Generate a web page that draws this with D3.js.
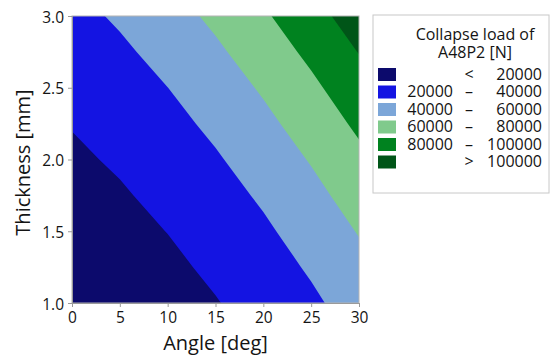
<!DOCTYPE html>
<html>
<head>
<meta charset="utf-8">
<script src="https://cdn.jsdelivr.net/npm/d3@7"></script>
<style>
  body { margin: 0; background: #ffffff; }
  svg { display: block; font-family: "Open Sans", "Noto Sans", sans-serif; }
</style>
</head>
<body>
<svg id="chart" width="552" height="357"></svg>
<script>
// Grid of collapse load values
const angles = [0, 5, 10, 15, 20, 25, 30];
const thicknesses = [1.0, 1.25, 1.5, 1.75, 2.0, 2.25, 2.5, 2.75, 3.0];
// one row per thickness (1.0 -> 3.0), one column per angle
const loads = [
  [ 6400,  8800, 13000, 19100, 27000, 36700,  48300],
  [ 8400, 11500, 16400, 23200, 31800, 42200,  54400],
  [10900, 14700, 20300, 27700, 37000, 48100,  61100],
  [13700, 18200, 24500, 32700, 42600, 54500,  68100],
  [17100, 22200, 29200, 38100, 48700, 61300,  75600],
  [20800, 26600, 34400, 43900, 55300, 68500,  83500],
  [24900, 31500, 39900, 50100, 62200, 76100,  91800],
  [29500, 36800, 45900, 56800, 69600, 84200, 100600],
  [34500, 42500, 52300, 63900, 77400, 92700, 109800]
];
const levels = [0, 20000, 40000, 60000, 80000, 100000];
const levelColors = ["#0c0a6c", "#1414e2", "#7ca6d8", "#80ca8c", "#00821f", "#005518"];
const legendLeft = ["", "20000", "40000", "60000", "80000", ""];
const legendSign = ["<", "–", "–", "–", "–", ">"];
const legendRight = ["20000", "40000", "60000", "80000", "100000", "100000"];
const xTicks = [0, 5, 10, 15, 20, 25, 30];
const yTicks = [1.0, 1.5, 2.0, 2.5, 3.0];

const svg = d3.select('#chart');
const margin = { left: 72, top: 16, right: 193, bottom: 54 };
const width = 552 - margin.left - margin.right;
const height = 357 - margin.top - margin.bottom;
const textColor = '#141414';

const x = d3.scaleLinear().domain([0, 30]).range([0, width]);
const y = d3.scaleLinear().domain([1, 3]).range([height, 0]);

const g = svg.append('g')
    .attr('transform', `translate(${margin.left},${margin.top})`);

svg.append('defs').append('clipPath').attr('id', 'plotClip')
    .append('rect').attr('width', width).attr('height', height);

// contour bands
const nx = angles.length, ny = thicknesses.length;
const flat = [].concat(...loads);
const contours = d3.contours().size([nx, ny]).thresholds(levels)(flat);

const da = angles[1] - angles[0];
const dt = thicknesses[1] - thicknesses[0];
const proj = d3.geoTransform({
    point: function(px, py) {
        this.stream.point(x(angles[0] + (px - 0.5) * da), y(thicknesses[0] + (py - 0.5) * dt));
    }
});
const path = d3.geoPath(proj);

g.append('g').attr('clip-path', 'url(#plotClip)')
    .selectAll('path')
    .data(contours)
    .enter().append('path')
    .attr('d', path)
    .attr('fill', (d, i) => levelColors[i])
    .attr('stroke', 'none');

// frame
g.append('rect')
    .attr('width', width).attr('height', height)
    .attr('fill', 'none')
    .attr('stroke', '#b4b4b4')
    .attr('stroke-width', 1);

// axes
const xAxis = g.append('g')
    .attr('transform', `translate(0,${height})`)
    .call(d3.axisBottom(x).tickValues(xTicks).tickSize(4).tickPadding(5).tickFormat(d3.format('d')));
const yAxis = g.append('g')
    .call(d3.axisLeft(y).tickValues(yTicks).tickSize(4).tickPadding(4).tickFormat(d3.format('.1f')));

g.selectAll('.domain, .tick line').attr('stroke', '#9a9a9a');
g.selectAll('.tick text')
    .style('font-size', '15.5px')
    .style('font-family', '"Open Sans", sans-serif')
    .attr('fill', textColor);
yAxis.selectAll('.tick text').attr('dy', '0.4em');

// axis titles
svg.append('text')
    .attr('x', margin.left + width / 2)
    .attr('y', 350)
    .attr('text-anchor', 'middle')
    .style('font-size', '20px')
    .attr('fill', textColor)
    .text('Angle [deg]');

svg.append('text')
    .attr('transform', `translate(30,${margin.top + height / 2 + 3}) rotate(-90)`)
    .attr('text-anchor', 'middle')
    .style('font-size', '20px')
    .attr('fill', textColor)
    .text('Thickness [mm]');

// legend
const lg = svg.append('g').attr('transform', 'translate(373,15)');
lg.append('rect')
    .attr('width', 176).attr('height', 178)
    .attr('fill', '#fff')
    .attr('stroke', '#c8c8c8');

lg.append('text').attr('x', 102).attr('y', 25).attr('text-anchor', 'middle')
    .style('font-size', '16px').attr('fill', textColor).text('Collapse load of');
lg.append('text').attr('x', 102).attr('y', 43).attr('text-anchor', 'middle')
    .style('font-size', '16px').attr('fill', textColor).text('A48P2 [N]');

const rows = lg.selectAll('.row')
    .data(levelColors)
    .enter().append('g')
    .attr('class', 'row')
    .attr('transform', (d, i) => `translate(0,${59 + i * 17.5})`);

rows.append('rect')
    .attr('x', 5).attr('y', -6)
    .attr('width', 18).attr('height', 13)
    .attr('fill', d => d);

rows.append('text').attr('x', 80).attr('dy', '0.36em').attr('text-anchor', 'end')
    .style('font-size', '16px').attr('fill', textColor)
    .text((d, i) => legendLeft[i]);
rows.append('text').attr('x', 96).attr('dy', '0.36em').attr('text-anchor', 'middle')
    .style('font-size', '16px').attr('fill', textColor)
    .text((d, i) => legendSign[i]);
rows.append('text').attr('x', 169).attr('dy', '0.36em').attr('text-anchor', 'end')
    .style('font-size', '16px').attr('fill', textColor)
    .text((d, i) => legendRight[i]);
</script>
</body>
</html>
